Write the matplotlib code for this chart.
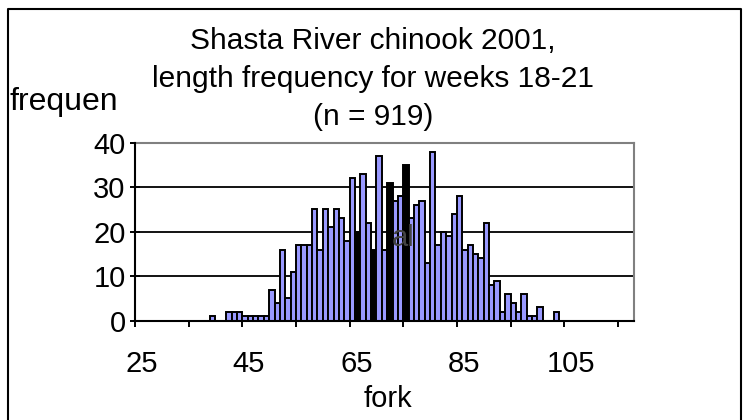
import matplotlib
matplotlib.use('Agg')
import matplotlib.pyplot as plt
from matplotlib.lines import Line2D
from matplotlib.transforms import ScaledTranslation

# ---- data ----
fork_lengths = [39, 42, 43, 44, 45, 46, 47, 48, 49, 50, 51, 52, 53, 54, 55, 56, 57,
                58, 59, 60, 61, 62, 63, 64, 65, 66, 67, 68, 69, 70, 71, 72, 73, 74,
                75, 76, 77, 78, 79, 80, 81, 82, 83, 84, 85, 86, 87, 88, 89, 90, 91,
                92, 93, 94, 95, 96, 97, 98, 99, 100, 103]
frequencies = [1, 2, 2, 2, 1, 1, 1, 1, 1, 7, 4, 16, 5, 11, 17, 17, 17,
               25, 16, 25, 21, 25, 23, 18, 32, 20, 33, 22, 16, 37, 16, 31, 27, 28,
               35, 23, 26, 27, 13, 38, 17, 20, 19, 24, 28, 16, 17, 15, 14, 22, 8,
               9, 2, 6, 4, 2, 6, 1, 1, 3, 2]
x_tick_labels = [25, 45, 65, 85, 105]
y_ticks = [0, 10, 20, 30, 40]
dark_bins = [66, 69, 72, 75]   # bars that render as solid black in the reference

title_lines = ["Shasta River chinook 2001,", "length frequency for weeks 18-21", "(n = 919)"]

plt.rcParams['font.family'] = ['Liberation Sans', 'DejaVu Sans']

W, H = 747, 420
fig = plt.figure(figsize=(W / 100, H / 100), dpi=100)
fig.patch.set_facecolor('white')


def fx(px):
    return px / W


def fy(py):
    return 1 - py / H


ax = fig.add_axes([fx(135), fy(320.7), fx(634) - fx(135), fy(142.7) - fy(320.7)])
colors = ['black' if c in dark_bins else '#9999ff' for c in fork_lengths]
ax.bar(fork_lengths, frequencies, width=1.0, color=colors, edgecolor='black',
       linewidth=1.4, zorder=3)
ax.set_xlim(24.5, 117.5)
ax.set_ylim(y_ticks[0], y_ticks[-1])

for yv in y_ticks[1:-1]:
    ax.axhline(yv, color='black', lw=1.3, zorder=1)

for side in ['left', 'bottom']:
    ax.spines[side].set_color('black')
    ax.spines[side].set_linewidth(1.5)
    ax.spines[side].set_zorder(5)
for side in ['top', 'right']:
    ax.spines[side].set_color('#808080')
    ax.spines[side].set_linewidth(1.5)

ax.set_yticks(y_ticks)
ax.set_yticklabels([str(v) for v in y_ticks])
ax.tick_params(axis='y', direction='inout', length=7.5, width=1.4, labelsize=21, pad=3)

ax.set_xticks(x_tick_labels)
ax.set_xticklabels([str(v) for v in x_tick_labels])
ax.set_xticks([x_tick_labels[0] - 0.5 + 10 * k for k in range(10)], minor=True)
ax.tick_params(axis='x', which='major', length=0, labelsize=21, pad=21)
ax.tick_params(axis='x', which='minor', direction='out', length=4.5, width=1.4)
shift = ScaledTranslation(4 / 100, 0, fig.dpi_scale_trans)
for lab in ax.get_xticklabels():
    lab.set_transform(lab.get_transform() + shift)

# titles & labels
for line, yc in zip(title_lines, [41, 79, 117]):
    fig.text(fx(373), fy(yc), line, ha='center', va='center', fontsize=21.5)
fig.text(fx(10), fy(102), "frequen", ha='left', va='center', fontsize=23)
fig.text(fx(388), fy(399), "fork", ha='center', va='center', fontsize=21)
fig.text(fx(392), fy(238), "al", ha='left', va='center', fontsize=21, color='#444444', zorder=10)

# outer frame (left, top, right)
frame = Line2D([fx(8), fx(8), fx(741), fx(741)], [0, fy(9), fy(9), 0],
               transform=fig.transFigure, color='black', lw=1.5)
fig.add_artist(frame)

fig.savefig('out.png', dpi=100)
